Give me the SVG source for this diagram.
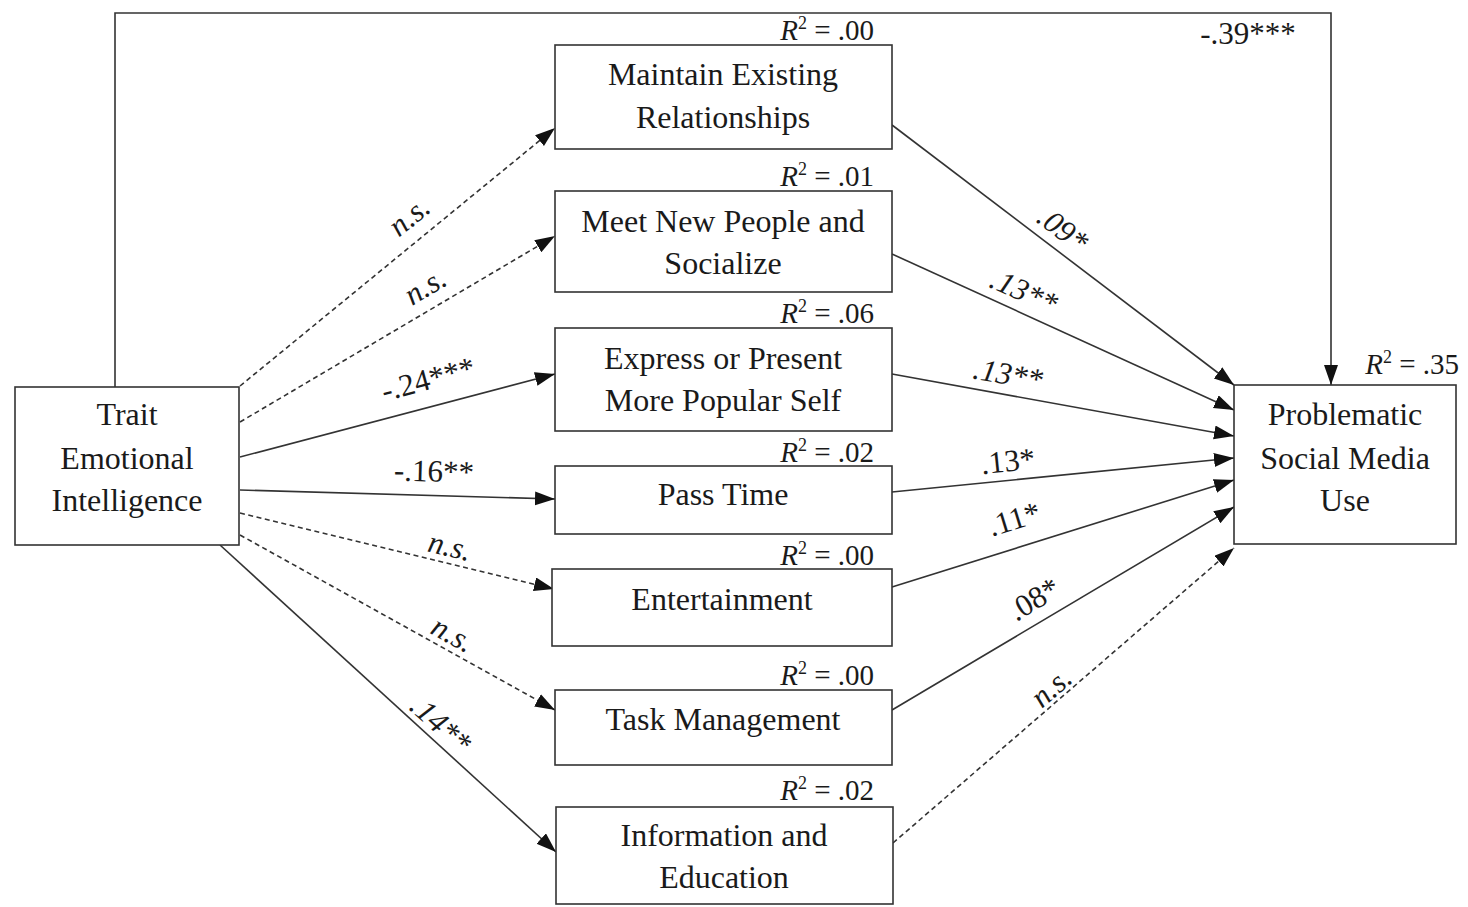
<svg xmlns="http://www.w3.org/2000/svg" width="1468" height="907" viewBox="0 0 1468 907">
<style>
.box{fill:#fff;stroke:#333;stroke-width:1.6}
.nt{font-family:"Liberation Serif","Times New Roman",serif;font-size:32px;fill:#1a1a1a;text-anchor:middle}
.lb{font-family:"Liberation Serif","Times New Roman",serif;font-size:31px;fill:#1a1a1a;text-anchor:middle;dominant-baseline:central}
.it{font-style:italic}
.r2{font-family:"Liberation Serif","Times New Roman",serif;font-size:29px;fill:#1a1a1a;text-anchor:end}
.ln{fill:none;stroke:#333;stroke-width:1.6}
.ds{fill:none;stroke:#333;stroke-width:1.6;stroke-dasharray:5 3.5}
</style>
<defs>
<marker id="ah" markerUnits="userSpaceOnUse" markerWidth="22" markerHeight="16" refX="20" refY="7" orient="auto">
<path d="M0,0 L20,7 L0,14 z" fill="#111"/>
</marker>
</defs>

<g id="connectors">
<path class="ln" d="M115,387 V13 H1331 V385" marker-end="url(#ah)"/>
<line class="ds" x1="240" y1="386" x2="555" y2="128" marker-end="url(#ah)"/>
<line class="ds" x1="240" y1="422" x2="555" y2="236" marker-end="url(#ah)"/>
<line class="ln" x1="240" y1="457" x2="555" y2="374" marker-end="url(#ah)"/>
<line class="ln" x1="240" y1="490" x2="555" y2="499" marker-end="url(#ah)"/>
<line class="ds" x1="240" y1="513" x2="554" y2="589" marker-end="url(#ah)"/>
<line class="ds" x1="240" y1="535" x2="555" y2="710" marker-end="url(#ah)"/>
<line class="ln" x1="220" y1="545" x2="556" y2="852" marker-end="url(#ah)"/>
<line class="ln" x1="892" y1="125" x2="1234" y2="385" marker-end="url(#ah)"/>
<line class="ln" x1="892" y1="254" x2="1234" y2="410" marker-end="url(#ah)"/>
<line class="ln" x1="892" y1="374" x2="1234" y2="436" marker-end="url(#ah)"/>
<line class="ln" x1="892" y1="492" x2="1234" y2="458" marker-end="url(#ah)"/>
<line class="ln" x1="892" y1="587" x2="1234" y2="480" marker-end="url(#ah)"/>
<line class="ln" x1="892" y1="710" x2="1234" y2="507" marker-end="url(#ah)"/>
<line class="ds" x1="893" y1="843" x2="1234" y2="548" marker-end="url(#ah)"/>

<text class="lb it" transform="translate(409,216) rotate(-39)">n.s.</text>
<text class="lb it" transform="translate(425,286) rotate(-31)">n.s.</text>
<text class="lb" transform="translate(428,379) rotate(-15)">-.24***</text>
<text class="lb" transform="translate(434,471) rotate(1.6)">-.16**</text>
<text class="lb it" transform="translate(450,546) rotate(13.5)">n.s.</text>
<text class="lb it" transform="translate(453,634) rotate(29)">n.s.</text>
<text class="lb it" transform="translate(441,724) rotate(42)">.14**</text>
<text class="lb it" transform="translate(1063,229) rotate(37)">.09*</text>
<text class="lb it" transform="translate(1024,291) rotate(24)">.13**</text>
<text class="lb it" transform="translate(1008,374) rotate(10)">.13**</text>
<text class="lb" transform="translate(1008,461) rotate(-5.7)">.13*</text>
<text class="lb" transform="translate(1014,519) rotate(-17)">.11*</text>
<text class="lb" transform="translate(1034,599) rotate(-31)">.08*</text>
<text class="lb it" transform="translate(1051,687) rotate(-41)">n.s.</text>
<text class="lb" x="1248" y="33">-.39***</text>
</g>

<g id="tei">
<rect class="box" x="15" y="387" width="224" height="158"/>
<text class="nt" x="127" y="425">Trait</text>
<text class="nt" x="127" y="469">Emotional</text>
<text class="nt" x="127" y="511">Intelligence</text>
</g>

<g id="psmu">
<rect class="box" x="1234" y="385" width="222" height="159"/>
<text class="nt" x="1345" y="425">Problematic</text>
<text class="nt" x="1345" y="469">Social Media</text>
<text class="nt" x="1345" y="511">Use</text>
<text class="r2" x="1459" y="374"><tspan font-style="italic">R</tspan><tspan font-size="18" dy="-11">2</tspan><tspan dy="11"> = .35</tspan></text>
</g>

<g id="maintain">
<rect class="box" x="555" y="45" width="337" height="104"/>
<text class="nt" x="723" y="85">Maintain Existing</text>
<text class="nt" x="723" y="128">Relationships</text>
<text class="r2" x="874" y="40"><tspan font-style="italic">R</tspan><tspan font-size="18" dy="-11">2</tspan><tspan dy="11"> = .00</tspan></text>
</g>

<g id="meet">
<rect class="box" x="555" y="191" width="337" height="101"/>
<text class="nt" x="723" y="232">Meet New People and</text>
<text class="nt" x="723" y="274">Socialize</text>
<text class="r2" x="874" y="186"><tspan font-style="italic">R</tspan><tspan font-size="18" dy="-11">2</tspan><tspan dy="11"> = .01</tspan></text>
</g>

<g id="express">
<rect class="box" x="555" y="328" width="337" height="103"/>
<text class="nt" x="723" y="369">Express or Present</text>
<text class="nt" x="723" y="411">More Popular Self</text>
<text class="r2" x="874" y="323"><tspan font-style="italic">R</tspan><tspan font-size="18" dy="-11">2</tspan><tspan dy="11"> = .06</tspan></text>
</g>

<g id="passtime">
<rect class="box" x="555" y="466" width="337" height="68"/>
<text class="nt" x="723" y="505">Pass Time</text>
<text class="r2" x="874" y="462"><tspan font-style="italic">R</tspan><tspan font-size="18" dy="-11">2</tspan><tspan dy="11"> = .02</tspan></text>
</g>

<g id="entertainment">
<rect class="box" x="552" y="569" width="340" height="77"/>
<text class="nt" x="722" y="610">Entertainment</text>
<text class="r2" x="874" y="565"><tspan font-style="italic">R</tspan><tspan font-size="18" dy="-11">2</tspan><tspan dy="11"> = .00</tspan></text>
</g>

<g id="task">
<rect class="box" x="555" y="690" width="337" height="75"/>
<text class="nt" x="723" y="730">Task Management</text>
<text class="r2" x="874" y="685"><tspan font-style="italic">R</tspan><tspan font-size="18" dy="-11">2</tspan><tspan dy="11"> = .00</tspan></text>
</g>

<g id="information">
<rect class="box" x="556" y="807" width="337" height="97"/>
<text class="nt" x="724" y="846">Information and</text>
<text class="nt" x="724" y="888">Education</text>
<text class="r2" x="874" y="800"><tspan font-style="italic">R</tspan><tspan font-size="18" dy="-11">2</tspan><tspan dy="11"> = .02</tspan></text>
</g>
</svg>
